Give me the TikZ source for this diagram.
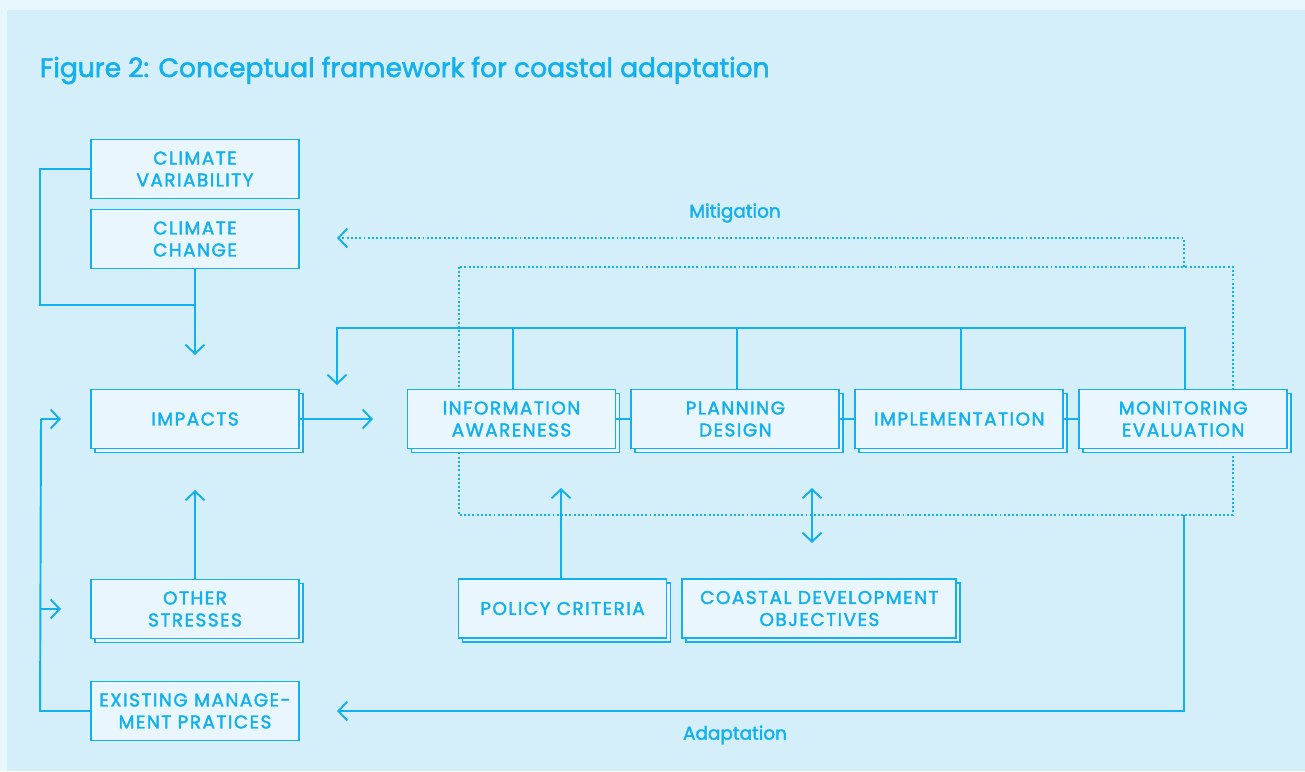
\documentclass[tikz,border=0pt]{standalone}
\usepackage{fontspec}
\setmainfont{Poppins}
\newfontfamily\capsfont{Poppins}[FakeBold=2,LetterSpace=8]
\newfontfamily\plainfont{Poppins}[FakeBold=2]
\usepackage{tikz}
\usetikzlibrary{arrows.meta,positioning,shadows}

\definecolor{cyanline}{HTML}{12B0EC}
\definecolor{panelbg}{HTML}{D4EEFA}
\definecolor{outerbg}{HTML}{E8F6FD}
\definecolor{boxfill}{HTML}{E9F6FD}

\begin{document}
\begin{tikzpicture}[x=0.02cm,y=-0.02cm,>={Straight Barb[length=0.18cm,width=0.38cm]},
                    line width=1.1pt,
                    box/.style={draw=cyanline,fill=boxfill,minimum width=4.16cm,minimum height=1.18cm,
                                align=center,text=cyanline,inner sep=2pt,
                                font=\capsfont\fontsize{10.5}{12.5}\selectfont},
                    stage/.style={box,copy shadow={shadow xshift=0.08cm,shadow yshift=-0.08cm}},
                    link/.style={draw=cyanline},
                    loop/.style={draw=cyanline,dash pattern=on 1.1pt off 1.3pt},
                    lbl/.style={text=cyanline,font=\plainfont\fontsize{10.5}{12.5}\selectfont}]

  % background panel
  \fill[outerbg] (0,0) rectangle (1305,771);
  \fill[panelbg] (7,10) rectangle (1305,771);
  \useasboundingbox (0,0) rectangle (1305,771);

  \node[anchor=base west,inner sep=0pt,text=cyanline,font=\plainfont\fontsize{15.1}{18}\selectfont] (title) at (39,77)
    {Figure 2: Conceptual framework for coastal adaptation};

  % dotted frame sits behind the boxes
  \draw[loop] (459,267) rectangle (1233,515);

  % left column
  \node[box] (var) at (195,169) {CLIMATE\\VARIABILITY};
  \node[box] (chg) at (195,239) {CLIMATE\\CHANGE};
  \node[stage] (imp) at (195,419) {IMPACTS};
  \node[stage] (oth) at (195,609) {OTHER\\STRESSES};
  \node[box] (mgmt) at (195,711) {EXISTING MANAGE-\\MENT PRATICES};

  % adaptation steps
  \node[stage] (info) at (511.5,419) {INFORMATION\\AWARENESS};
  \node[stage] (plan) [right=0.28cm of info] {PLANNING\\DESIGN};
  \node[stage] (impl) [right=0.28cm of plan] {IMPLEMENTATION};
  \node[stage] (mon) [right=0.28cm of impl] {MONITORING\\EVALUATION};

  \node[stage] (pol) at (562.5,608.5) {POLICY CRITERIA};
  \node[stage,minimum width=5.48cm] (coast) [right=0.28cm of pol] {COASTAL DEVELOPMENT\\OBJECTIVES};

  \node[lbl] (mitig) at (735,213) {Mitigation};
  \node[lbl] (adapt) at (735,735) {Adaptation};

  % free ends
  \coordinate (merge) at (195,305);
  \coordinate (impin) at (195,355);
  \coordinate (infoin) at (373,419);
  \coordinate (othout) at (195,490);
  \coordinate (fb) at (337,328);
  \coordinate (fbin) at (337,385);
  \coordinate (mitin) at (337,238);
  \coordinate (adin) at (337,711);
  \coordinate (polout) at (561,488);
  \coordinate (dtop) at (812,488);
  \coordinate (dbot) at (812,543);

  \draw[link] (var.west) -- ++(-50,0) |- (merge);
  \draw[link,->] (chg.south) -- (impin);
  \draw[link,->] (imp.east) -- (infoin);
  \draw[link,->] (oth.north) -- (othout);

  \draw[link] (mgmt.west) -- ++(-50,0) -- (41,419);
  \draw[link,->] (41,419) -- (61,419);
  \draw[link,->] (41,609) -- (61,609);

  \draw[link] (info) -- (plan) (plan) -- (impl) (impl) -- (mon);

  % feedback
  \draw[link,->] ([xshift=0.03cm]mon.north) |- (fb) -- (fbin);
  \draw[link] ([xshift=0.03cm]info.north) -- ++(0,-61)
              ([xshift=0.03cm]plan.north) -- ++(0,-61)
              ([xshift=0.03cm]impl.north) -- ++(0,-61);

  \draw[loop,->] (1184,267) |- (mitin);
  \draw[link,->] (1184,515) |- (adin);

  \draw[link,->] (polout |- pol.north) -- (polout);
  \draw[link,<->] (dtop) -- (dbot);
\end{tikzpicture}
\end{document}
